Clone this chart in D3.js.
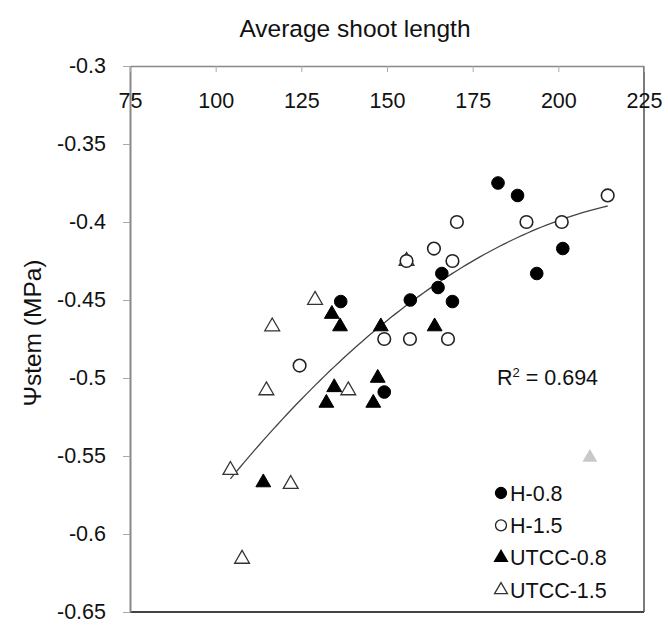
<!DOCTYPE html>
<html>
<head>
<meta charset="utf-8">
<script src="https://cdn.jsdelivr.net/npm/d3@7"></script>
<style>
  body { margin: 0; background: #fff; }
  text { font-family: "Liberation Sans", Arial, sans-serif; fill: #111; }
</style>
</head>
<body>
<svg id="chart" width="668" height="625"></svg>
<script>
// shoot length (x) vs stem water potential (y)
const h08X = [182.4, 188.1, 201.3, 166.0, 193.7, 164.9, 156.8, 169.1, 136.5, 149.2];
const h08Y = [-0.375, -0.383, -0.417, -0.433, -0.433, -0.442, -0.450, -0.451, -0.451, -0.509];

const h15X = [214.4, 190.7, 201.0, 170.4, 163.7, 155.7, 169.1, 149.2, 156.7, 167.8, 124.5];
const h15Y = [-0.383, -0.400, -0.400, -0.400, -0.417, -0.425, -0.425, -0.475, -0.475, -0.475, -0.492];

const u08X = [133.9, 136.3, 148.2, 163.9, 134.6, 147.3, 132.3, 146.0, 113.9];
const u08Y = [-0.459, -0.467, -0.467, -0.467, -0.506, -0.500, -0.516, -0.516, -0.567];

const u15X = [129.0, 116.5, 114.8, 138.7, 104.3, 121.9, 107.7, 155.7];
const u15Y = [-0.450, -0.467, -0.508, -0.508, -0.559, -0.568, -0.616, -0.425];

// stray grey marker in the figure
const greyX = [209.2];
const greyY = [-0.551];

const xTicks = [75, 100, 125, 150, 175, 200, 225];
const yTicks = [-0.3, -0.35, -0.4, -0.45, -0.5, -0.55, -0.6, -0.65];
const r2Label = "0.694";

const plotL = 130, plotR = 644, plotT = 66, plotB = 612;

const svg = d3.select('#chart');

const x = d3.scaleLinear().domain([75, 225]).range([plotL, plotR]);
const y = d3.scaleLinear().domain([-0.65, -0.3]).range([plotB, plotT]);

// frame: right and bottom edges
svg.append('line')
  .attr('x1', plotR).attr('x2', plotR).attr('y1', plotT).attr('y2', plotB)
  .attr('stroke', '#222').attr('stroke-width', 1.2);
svg.append('line')
  .attr('x1', plotL).attr('x2', plotR).attr('y1', plotB).attr('y2', plotB)
  .attr('stroke', '#444').attr('stroke-width', 2);

// y axis
const yAxis = svg.append('g')
  .attr('transform', `translate(${plotL},0)`)
  .call(d3.axisLeft(y).tickValues(yTicks).tickSize(7).tickSizeOuter(0)
    .tickPadding(17).tickFormat(d => String(d)));
yAxis.select('.domain').attr('stroke', '#888').attr('stroke-width', 2);
yAxis.selectAll('.tick line').attr('stroke', '#aaa');
yAxis.selectAll('text').style('font-size', '21.5px').attr('fill', '#111');

// x axis sits on top, labels inside the plot
const xAxis = svg.append('g')
  .attr('transform', `translate(0,${plotT})`)
  .call(d3.axisBottom(x).tickValues(xTicks).tickSize(6).tickSizeOuter(0)
    .tickPadding(21).tickFormat(d => String(d)));
xAxis.select('.domain').attr('stroke', '#888').attr('stroke-width', 1.5);
xAxis.selectAll('.tick line').attr('stroke', '#aaa');
xAxis.selectAll('text').style('font-size', '21.5px').attr('fill', '#111');

// titles
svg.append('text')
  .attr('x', 355).attr('y', 37)
  .attr('text-anchor', 'middle')
  .style('font-size', '24.5px')
  .text('Average shoot length');

svg.append('text')
  .attr('transform', 'translate(41,333) rotate(-90)')
  .attr('text-anchor', 'middle')
  .style('font-size', '24.5px')
  .text('Ψstem (MPa)');

// quadratic trend line fitted to all points
const allX = [].concat(h08X, h15X, u08X, u15X);
const allY = [].concat(h08Y, h15Y, u08Y, u15Y);

function fitQuad(xs, ys) {
  const S = [[0, 0, 0], [0, 0, 0], [0, 0, 0]], T = [0, 0, 0];
  xs.forEach((xv, i) => {
    const p = [1, xv, xv * xv];
    for (let a = 0; a < 3; a++) {
      T[a] += p[a] * ys[i];
      for (let b = 0; b < 3; b++) S[a][b] += p[a] * p[b];
    }
  });
  // gaussian elimination
  const M = S.map((row, i) => row.concat([T[i]]));
  for (let c = 0; c < 3; c++) {
    for (let r = c + 1; r < 3; r++) {
      const f = M[r][c] / M[c][c];
      for (let k = c; k < 4; k++) M[r][k] -= f * M[c][k];
    }
  }
  const coef = [0, 0, 0];
  for (let r = 2; r >= 0; r--) {
    let s = M[r][3];
    for (let k = r + 1; k < 3; k++) s -= M[r][k] * coef[k];
    coef[r] = s / M[r][r];
  }
  return coef;
}

const cf = fitQuad(allX, allY);
const [xMin, xMax] = d3.extent(allX);
const curve = d3.range(xMin, xMax + 0.01, (xMax - xMin) / 80)
  .map(v => [v, cf[0] + cf[1] * v + cf[2] * v * v]);

svg.append('path')
  .datum(curve)
  .attr('fill', 'none')
  .attr('stroke', '#444')
  .attr('stroke-width', 1.3)
  .attr('d', d3.line().x(d => x(d[0])).y(d => y(d[1])));

svg.append('text')
  .attr('x', 497).attr('y', y(-0.5) + 7)
  .style('font-size', '21.5px')
  .html(`R<tspan dy="-8" style="font-size:13px">2</tspan><tspan dy="8"> = ${r2Label}</tspan>`);

// markers
const circle = d3.symbol().type(d3.symbolCircle).size(125);
const tri = d3.symbol().type(d3.symbolTriangle).size(95);

function plot(xs, ys, sym, fill, stroke, sw) {
  svg.append('g').selectAll('path')
    .data(xs.map((v, i) => [v, ys[i]]))
    .join('path')
    .attr('transform', d => `translate(${x(d[0])},${y(d[1])})`)
    .attr('d', sym)
    .attr('fill', fill)
    .attr('stroke', stroke)
    .attr('stroke-width', sw);
}

plot(u15X, u15Y, tri, '#fff', '#333', 1.3);
plot(h15X, h15Y, circle, '#fff', '#222', 1.6);
plot(u08X, u08Y, tri, '#000', '#000', 1);
plot(h08X, h08Y, circle, '#000', '#000', 1);
plot(greyX, greyY, tri, '#c8c8c8', 'none', 0);

// legend
const legCircle = d3.symbol().type(d3.symbolCircle).size(95);
const legTri = d3.symbol().type(d3.symbolTriangle).size(72);
const legendItems = [
  { name: 'H-0.8', sym: legCircle, fill: '#000', stroke: '#000' },
  { name: 'H-1.5', sym: legCircle, fill: '#fff', stroke: '#222' },
  { name: 'UTCC-0.8', sym: legTri, fill: '#000', stroke: '#000' },
  { name: 'UTCC-1.5', sym: legTri, fill: '#fff', stroke: '#333' }
];
const legendY = d3.scalePoint().domain(legendItems.map(d => d.name)).range([493, 590]);

const lg = svg.append('g').selectAll('g')
  .data(legendItems)
  .join('g')
  .attr('transform', d => `translate(501,${legendY(d.name)})`);
lg.append('path')
  .attr('d', d => d.sym())
  .attr('fill', d => d.fill)
  .attr('stroke', d => d.stroke)
  .attr('stroke-width', 1.3);
lg.append('text')
  .attr('x', 9).attr('dy', '0.36em')
  .style('font-size', '21.5px')
  .text(d => d.name);
</script>
</body>
</html>
